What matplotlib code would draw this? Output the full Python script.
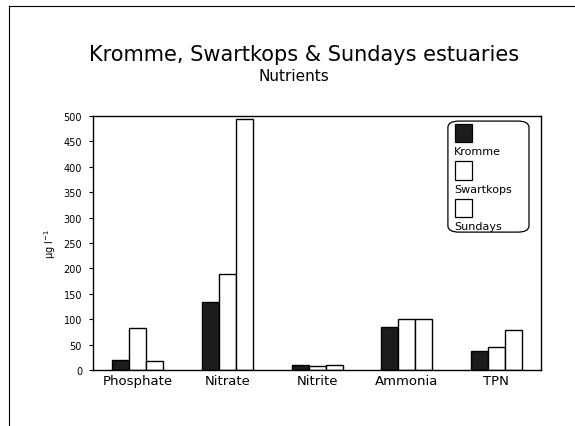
import numpy as np
import matplotlib
matplotlib.use("Agg")
import matplotlib.pyplot as plt
from matplotlib.patches import FancyBboxPatch, Rectangle

plt.rcParams["font.family"] = ["DejaVu Sans"]

# Data (ug/l)
nutrients = ["Phosphate", "Nitrate", "Nitrite", "Ammonia", "TPN"]
kromme = [20, 134, 10, 85, 38]
swartkops = [83, 190, 8, 100, 46]
sundays = [17, 495, 10, 101, 78]
series_names = ["Kromme", "Swartkops", "Sundays"]
yticks = [0, 50, 100, 150, 200, 250, 300, 350, 400, 450, 500]

fig = plt.figure(figsize=(5.75, 4.27), dpi=100)
ax = fig.add_axes([0.162, 0.131, 0.779, 0.595])

# outer frame of the scanned page
fig.add_artist(plt.Line2D([0.016, 0.016], [0.0, 0.984], color="black", lw=0.8,
                          transform=fig.transFigure))
fig.add_artist(plt.Line2D([0.016, 1.0], [0.984, 0.984], color="black", lw=0.8,
                          transform=fig.transFigure))

x = np.arange(len(nutrients)) + 0.5
w = 0.19
styles = [
    dict(facecolor="#1c1c1c", edgecolor="black"),
    dict(facecolor="white", edgecolor="black"),
    dict(facecolor="white", edgecolor="black"),
]
for i, vals in enumerate([kromme, swartkops, sundays]):
    ax.bar(x + (i - 1) * w, vals, width=w, linewidth=1.0, **styles[i])

ax.set_xlim(0, len(nutrients))
ax.set_ylim(0, 500)
ax.set_yticks(yticks)
ax.set_yticklabels([str(t) for t in yticks], fontsize=7)
ax.set_xticks(x)
ax.set_xticklabels(nutrients, fontsize=9.5)
ax.tick_params(axis="x", length=0, pad=3)
ax.tick_params(axis="y", length=3, width=0.8, pad=5)
for s in ax.spines.values():
    s.set_linewidth(1.0)
ax.set_ylabel("µg l$^{-1}$", fontsize=7, labelpad=4)

fig.text(0.528, 0.872, "Kromme, Swartkops & Sundays estuaries", ha="center",
         va="center", fontsize=15)
fig.text(0.511, 0.822, "Nutrients", ha="center", va="center", fontsize=11)

# legend with the swatch above each label, as in the original
box = FancyBboxPatch((0.792, 0.543), 0.181, 0.437, boxstyle="round,pad=0,rounding_size=0.025",
                     transform=ax.transAxes, facecolor="white", edgecolor="black", lw=0.9)
ax.add_patch(box)
for i, name in enumerate(series_names):
    top = 0.969 - i * 0.148
    ax.add_patch(Rectangle((0.808, top - 0.071), 0.038, 0.071, transform=ax.transAxes,
                           lw=0.9, **styles[i]))
    ax.text(0.806, top - 0.107, name, transform=ax.transAxes, fontsize=8,
            ha="left", va="center")

fig.savefig("out.png", dpi=100)
